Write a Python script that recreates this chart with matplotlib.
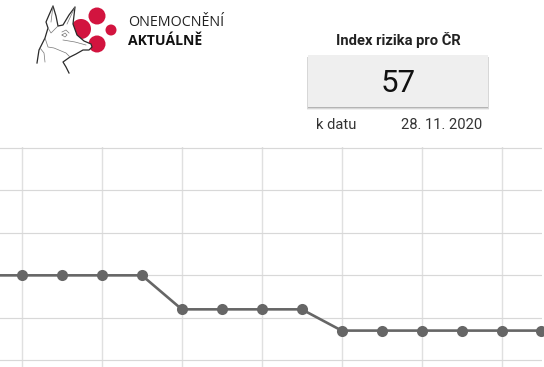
import matplotlib
matplotlib.use("Agg")
from matplotlib import pyplot as plt
from matplotlib import patches as mpatches

W, H = 544, 367

# days before/after the first visible point, index value
days = [-1, 0, 1, 2, 3, 4, 5, 6, 7, 8, 9, 10, 11, 12, 13]
index_values = [70, 70, 70, 70, 70, 62, 62, 62, 62, 57, 57, 57, 57, 57, 57]
y_ticks = [50, 60, 70, 80, 90, 100]
x_ticks = [0, 2, 4, 6, 8, 10, 12]

# logo
circles = [(97, 16, 8.5), (81, 29, 10), (111, 30, 5.5), (97, 44, 8.5)]
dog_outline = [(37, 63), (39, 50), (45, 38), (48, 28), (46, 22), (49, 15), (53, 6), (56, 16), (58, 26),
               (63, 25), (69, 15), (75, 7), (73, 24), (77, 35), (84, 41), (91, 44), (92, 47), (89, 50),
               (83, 50), (76, 54), (70, 57), (63, 62), (66, 67), (69, 73)]
dog_details = [[(45, 38), (48, 47), (54, 48), (66, 53), (70, 57)],
               [(48, 28), (51, 33), (58, 26)],
               [(63, 40), (75, 42), (86, 45)],
               [(62, 32), (66, 30), (69, 33)],
               [(62, 35), (65, 33), (67, 35), (65, 37), (62, 35)],
               [(40, 48), (44, 53), (45, 62)],
               [(53, 6), (51, 22)],
               [(75, 7), (67, 24)]]

plt.rcParams['font.family'] = ['Roboto', 'DejaVu Sans']

fig = plt.figure(figsize=(W / 100, H / 100), dpi=100, facecolor='white')


def px_axes(x0, y0, x1, y1):
	# y0 and y1 are counted from the top of the picture
	return fig.add_axes([x0 / W, 1 - y1 / H, (x1 - x0) / W, (y1 - y0) / H])


# chart -------------------------------------------------------------------
ax = px_axes(0, 147, 542, 367)
ax.set_xlim(-22 / 39.96, 520 / 39.96)
ax.set_ylim(100.2 - 220 / 4.25, 100.2)
ax.set_xticks(x_ticks)
ax.set_yticks(y_ticks)
ax.grid(True, axis='x', color='#e0e0e0', linewidth=1.0)
ax.grid(True, axis='y', color='#d8d8d8', linewidth=0.85)
ax.set_axisbelow(True)
ax.tick_params(length=0, labelbottom=False, labelleft=False)
for spine in ax.spines.values():
	spine.set_visible(False)
ax.plot(days, index_values, color='#666666', linewidth=1.9, marker='o', markersize=8,
	markeredgewidth=0, clip_on=False, zorder=3)

# header ------------------------------------------------------------------
top = fig.add_axes([0, 0, 1, 1], facecolor='none')
top.set_xlim(0, W)
top.set_ylim(H, 0)
top.axis('off')

for cx, cy, r in circles:
	top.add_patch(mpatches.Circle((cx, cy), r, color='#d2143f', linewidth=0))

# the dog sits in front of the circles
dog_fill = mpatches.Polygon(dog_outline[2:21], closed=True, facecolor='white', edgecolor='none')
top.add_patch(dog_fill)
top.plot(*zip(*dog_outline), color='#2a2a2a', linewidth=0.9)
for part in dog_details:
	top.plot(*zip(*part), color='#777777', linewidth=0.5)

top.text(128, 23, "ONEMOCNĚNÍ", family=['Open Sans', 'DejaVu Sans'], fontsize=10.3,
	color='#222222', va='center')
top.text(128, 41, "AKTUÁLNĚ", family=['Open Sans', 'DejaVu Sans'], fontsize=10.1, fontweight='bold',
	color='#111111', va='center')

top.text(398, 40.5, "Index rizika pro ČR", fontsize=10.6, fontweight='bold', color='#222222',
	ha='center', va='center')

# grey card with a soft shadow
for grow, alpha in [(2.5, 0.06), (1.5, 0.1), (0.7, 0.16)]:
	top.add_patch(mpatches.Rectangle((308 - grow / 2, 57), 180 + grow, 50 + grow, facecolor='black',
		edgecolor='none', alpha=alpha))
top.add_patch(mpatches.Rectangle((308, 55), 180, 51.5, facecolor='#efefef', edgecolor='none'))
top.text(398, 84, "57", fontsize=22.5, color='#111111', ha='center', va='center')

top.text(316.5, 125, "k datu", fontsize=10.6, color='#333333', va='center')
top.text(482, 125, "28. 11. 2020", fontsize=10.6, color='#333333', ha='right', va='center')

fig.savefig("out.png", dpi=100)
